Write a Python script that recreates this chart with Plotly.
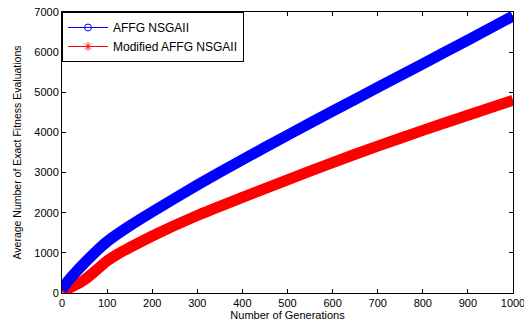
import plotly.graph_objects as go

gens_blue = [0, 10, 25, 50, 75, 100, 150, 200, 300, 400, 500, 600, 700, 800, 900, 1000]
affg = [80, 250, 450, 750, 1030, 1280, 1670, 2020, 2690, 3320, 3930, 4530, 5120, 5710, 6300, 6900]
gens_red = [0, 10, 25, 50, 75, 100, 125, 150, 200, 300, 400, 500, 600, 700, 800, 900, 1000]
mod_affg = [50, 90, 170, 330, 560, 800, 980, 1130, 1420, 1930, 2380, 2820, 3250, 3660, 4050, 4430, 4800]

xticks = [0, 100, 200, 300, 400, 500, 600, 700, 800, 900, 1000]
yticks = [0, 1000, 2000, 3000, 4000, 5000, 6000, 7000]

fig = go.Figure()
fig.add_trace(go.Scatter(x=gens_red, y=mod_affg, mode="lines", line=dict(color="#ff0000", width=11, shape="spline", smoothing=0.6),
                         showlegend=False, hoverinfo="skip", cliponaxis=False))
fig.add_trace(go.Scatter(x=gens_blue, y=affg, mode="lines", line=dict(color="#0000ff", width=11, shape="spline", smoothing=0.6),
                         showlegend=False, hoverinfo="skip", cliponaxis=False))
fig.add_trace(go.Scatter(x=[None], y=[None], mode="lines+markers", name="AFFG NSGAII",
                         line=dict(color="#0000ff", width=1),
                         marker=dict(symbol="circle-open", size=7, color="#0000ff")))
fig.add_trace(go.Scatter(x=[None], y=[None], mode="lines+markers", name="Modified AFFG NSGAII",
                         line=dict(color="#ff0000", width=1),
                         marker=dict(symbol="asterisk-open", size=7, color="#ff0000")))

font = "Liberation Sans, Arial"
axis_common = dict(showgrid=False, zeroline=False, showline=True, linecolor="#000000", linewidth=1,
                   mirror="allticks", ticks="inside", ticklen=4, tickcolor="#000000", automargin=False,
                   ticklabeloverflow="allow",
                   tickfont=dict(family=font, size=11, color="#000000"))
fig.update_xaxes(range=[0, 1000], tickvals=xticks, title=dict(text="Number of Generations", standoff=2,
                 font=dict(family=font, size=11, color="#000000")), **axis_common)
fig.update_yaxes(range=[0, 7000], tickvals=yticks, title=dict(text="Average Number of Exact Fitness Evaluations", standoff=10,
                 font=dict(family=font, size=10.5, color="#000000")), **axis_common)

fig.update_layout(
    width=524, height=324,
    margin=dict(l=62, r=11, t=12, b=31),
    paper_bgcolor="#ffffff", plot_bgcolor="#ffffff",
    legend=dict(x=0, y=1, xanchor="left", yanchor="top", bgcolor="#ffffff",
                bordercolor="#000000", borderwidth=1, tracegroupgap=0,
                font=dict(family=font, size=12, color="#000000"),
                itemwidth=40),
)
fig.write_html("out.html", config={"displayModeBar": False},
               post_script="document.body.style.margin='0px';document.body.style.padding='0px';")
